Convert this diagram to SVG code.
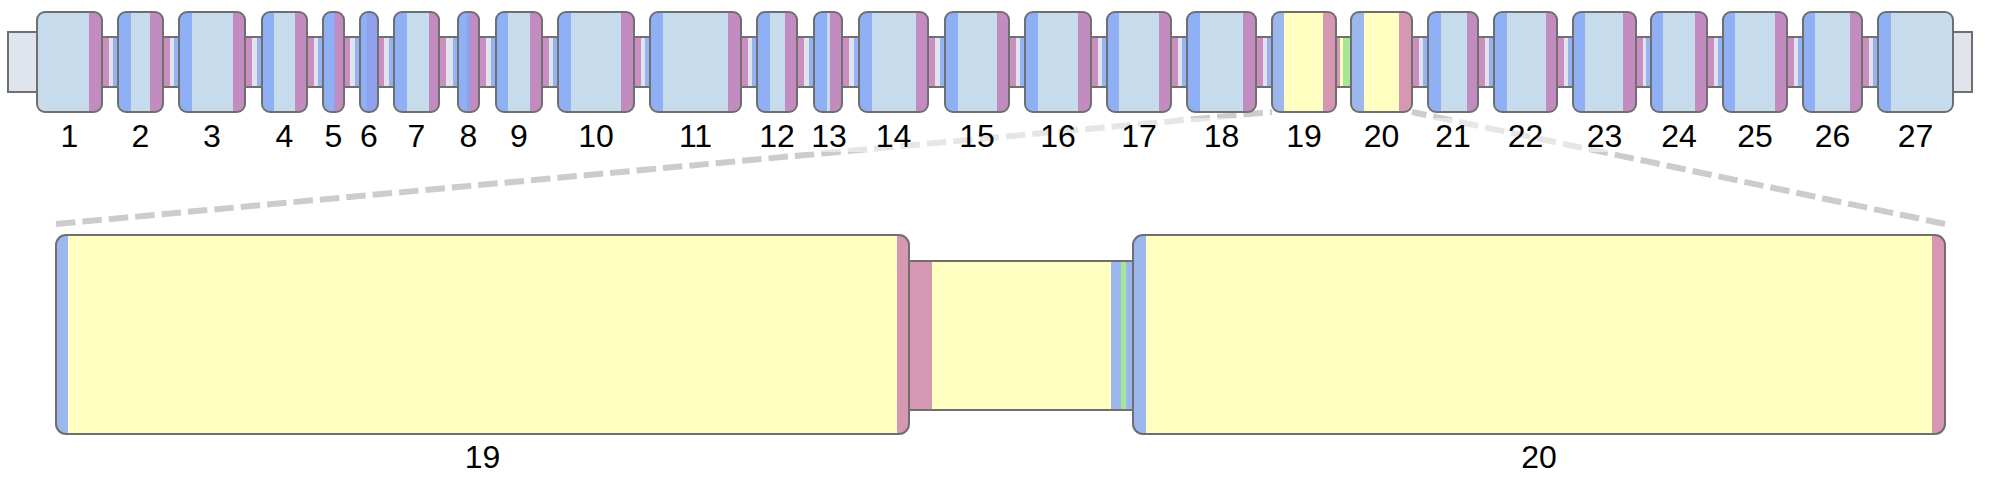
<svg xmlns="http://www.w3.org/2000/svg" width="1999" height="483" viewBox="0 0 1999 483">
<style>
.bg{fill:#ffffff}
.bb{fill:#e0e4ec}
.bbo{fill:none;stroke:#6f6f6f;stroke-width:2}
.ol{fill:none;stroke:#6f6f6f;stroke-width:2}
.ex{fill:#c6dcec}
.ey{fill:#ffffc2}
.b{fill:#82a5f7;fill-opacity:0.8}
.p{fill:#c064aa;fill-opacity:0.67}
.g{fill:#a6e694}
.lbl{font-family:"Liberation Sans",Arial,sans-serif;font-size:32px;fill:#000;text-anchor:middle}
.dash{fill:none;stroke:#cccccc;stroke-width:6;stroke-dasharray:19.5 7}
.band{fill:#ffffff;fill-opacity:0.5}
</style>
<defs>
<clipPath id="k1"><rect x="37" y="12" width="65" height="100" rx="8"/></clipPath>
<clipPath id="k2"><rect x="118" y="12" width="45" height="100" rx="8"/></clipPath>
<clipPath id="k3"><rect x="179" y="12" width="66" height="100" rx="8"/></clipPath>
<clipPath id="k4"><rect x="262" y="12" width="45" height="100" rx="8"/></clipPath>
<clipPath id="k5"><rect x="323" y="12" width="21" height="100" rx="8"/></clipPath>
<clipPath id="k6"><rect x="360" y="12" width="18" height="100" rx="8"/></clipPath>
<clipPath id="k7"><rect x="394" y="12" width="45" height="100" rx="8"/></clipPath>
<clipPath id="k8"><rect x="458" y="12" width="21" height="100" rx="8"/></clipPath>
<clipPath id="k9"><rect x="496" y="12" width="46" height="100" rx="8"/></clipPath>
<clipPath id="k10"><rect x="558" y="12" width="76" height="100" rx="8"/></clipPath>
<clipPath id="k11"><rect x="650" y="12" width="91" height="100" rx="8"/></clipPath>
<clipPath id="k12"><rect x="757" y="12" width="40" height="100" rx="8"/></clipPath>
<clipPath id="k13"><rect x="814" y="12" width="28" height="100" rx="8"/></clipPath>
<clipPath id="k14"><rect x="859" y="12" width="69" height="100" rx="8"/></clipPath>
<clipPath id="k15"><rect x="945" y="12" width="64" height="100" rx="8"/></clipPath>
<clipPath id="k16"><rect x="1025" y="12" width="66" height="100" rx="8"/></clipPath>
<clipPath id="k17"><rect x="1107" y="12" width="64" height="100" rx="8"/></clipPath>
<clipPath id="k18"><rect x="1187" y="12" width="69" height="100" rx="8"/></clipPath>
<clipPath id="k19"><rect x="1272" y="12" width="64" height="100" rx="8"/></clipPath>
<clipPath id="k20"><rect x="1351" y="12" width="61" height="100" rx="8"/></clipPath>
<clipPath id="k21"><rect x="1428" y="12" width="50" height="100" rx="8"/></clipPath>
<clipPath id="k22"><rect x="1494" y="12" width="63" height="100" rx="8"/></clipPath>
<clipPath id="k23"><rect x="1573" y="12" width="63" height="100" rx="8"/></clipPath>
<clipPath id="k24"><rect x="1651" y="12" width="56" height="100" rx="8"/></clipPath>
<clipPath id="k25"><rect x="1723" y="12" width="64" height="100" rx="8"/></clipPath>
<clipPath id="k26"><rect x="1803" y="12" width="59" height="100" rx="8"/></clipPath>
<clipPath id="k27"><rect x="1878" y="12" width="75" height="100" rx="8"/></clipPath>
<clipPath id="kb19"><rect x="56" y="235" width="853" height="199" rx="10"/></clipPath>
<clipPath id="kb20"><rect x="1133" y="235" width="812" height="199" rx="10"/></clipPath>
</defs>
<rect class="bg" x="0" y="0" width="1999" height="483"/>

<g id="connectors">
<line class="dash" x1="56" y1="224" x2="1272" y2="112"/>
<line class="dash" x1="1945" y1="224" x2="1412" y2="112"/>
<rect class="band" x="0" y="118" width="1999" height="34"/>
</g>

<g id="backbone">
<rect class="bb" x="8" y="32" width="29" height="60"/>
<rect class="bbo" x="8" y="32" width="29" height="60"/>
<rect class="bb" x="1953" y="32" width="19" height="60"/>
<rect class="bbo" x="1953" y="32" width="19" height="60"/>
<rect class="bb" x="37" y="37" width="1916" height="50"/>
<g id="intron-strips">
<rect class="p" x="102" y="38" width="7" height="48"/><rect class="b" x="113" y="38" width="5" height="48"/>
<rect class="p" x="163" y="38" width="7" height="48"/><rect class="b" x="174" y="38" width="5" height="48"/>
<rect class="p" x="245" y="38" width="7" height="48"/><rect class="b" x="257" y="38" width="5" height="48"/>
<rect class="p" x="307" y="38" width="7" height="48"/><rect class="b" x="318" y="38" width="5" height="48"/>
<rect class="p" x="344" y="38" width="6" height="48"/><rect class="b" x="355" y="38" width="5" height="48"/>
<rect class="p" x="378" y="38" width="6" height="48"/><rect class="b" x="389" y="38" width="5" height="48"/>
<rect class="p" x="439" y="38" width="7" height="48"/><rect class="b" x="453" y="38" width="5" height="48"/>
<rect class="p" x="479" y="38" width="7" height="48"/><rect class="b" x="491" y="38" width="5" height="48"/>
<rect class="p" x="542" y="38" width="7" height="48"/><rect class="b" x="553" y="38" width="5" height="48"/>
<rect class="p" x="634" y="38" width="7" height="48"/><rect class="b" x="645" y="38" width="5" height="48"/>
<rect class="p" x="741" y="38" width="7" height="48"/><rect class="b" x="752" y="38" width="5" height="48"/>
<rect class="p" x="797" y="38" width="7" height="48"/><rect class="b" x="809" y="38" width="5" height="48"/>
<rect class="p" x="842" y="38" width="7" height="48"/><rect class="b" x="854" y="38" width="5" height="48"/>
<rect class="p" x="928" y="38" width="7" height="48"/><rect class="b" x="940" y="38" width="5" height="48"/>
<rect class="p" x="1009" y="38" width="7" height="48"/><rect class="b" x="1020" y="38" width="5" height="48"/>
<rect class="p" x="1091" y="38" width="7" height="48"/><rect class="b" x="1102" y="38" width="5" height="48"/>
<rect class="p" x="1171" y="38" width="7" height="48"/><rect class="b" x="1182" y="38" width="5" height="48"/>
<rect class="p" x="1256" y="38" width="7" height="48"/><rect class="b" x="1267" y="38" width="5" height="48"/>
<rect class="ey" x="1336" y="38" width="15" height="48"/><rect class="p" x="1336" y="38" width="4" height="48"/><rect class="g" x="1343" y="38" width="7" height="48"/><rect class="b" x="1350" y="38" width="1" height="48"/>
<rect class="p" x="1412" y="38" width="7" height="48"/><rect class="b" x="1423" y="38" width="5" height="48"/>
<rect class="p" x="1478" y="38" width="7" height="48"/><rect class="b" x="1489" y="38" width="5" height="48"/>
<rect class="p" x="1557" y="38" width="7" height="48"/><rect class="b" x="1568" y="38" width="5" height="48"/>
<rect class="p" x="1636" y="38" width="7" height="48"/><rect class="b" x="1646" y="38" width="5" height="48"/>
<rect class="p" x="1707" y="38" width="7" height="48"/><rect class="b" x="1718" y="38" width="5" height="48"/>
<rect class="p" x="1787" y="38" width="7" height="48"/><rect class="b" x="1798" y="38" width="5" height="48"/>
<rect class="p" x="1862" y="38" width="7" height="48"/><rect class="b" x="1873" y="38" width="5" height="48"/>
</g>
<rect class="bbo" x="37" y="37" width="1916" height="50"/>
</g>

<g id="exon-1"><g clip-path="url(#k1)"><rect class="ex" x="37" y="12" width="65" height="100"/><rect class="p" x="89" y="12" width="13" height="100"/></g><rect class="ol" x="37" y="12" width="65" height="100" rx="8"/><text class="lbl" x="69.5" y="147">1</text></g>
<g id="exon-2"><g clip-path="url(#k2)"><rect class="ex" x="118" y="12" width="45" height="100"/><rect class="p" x="150" y="12" width="13" height="100"/><rect class="b" x="118" y="12" width="13" height="100"/></g><rect class="ol" x="118" y="12" width="45" height="100" rx="8"/><text class="lbl" x="140.5" y="147">2</text></g>
<g id="exon-3"><g clip-path="url(#k3)"><rect class="ex" x="179" y="12" width="66" height="100"/><rect class="p" x="233" y="12" width="12" height="100"/><rect class="b" x="179" y="12" width="13" height="100"/></g><rect class="ol" x="179" y="12" width="66" height="100" rx="8"/><text class="lbl" x="212" y="147">3</text></g>
<g id="exon-4"><g clip-path="url(#k4)"><rect class="ex" x="262" y="12" width="45" height="100"/><rect class="p" x="295" y="12" width="12" height="100"/><rect class="b" x="262" y="12" width="12" height="100"/></g><rect class="ol" x="262" y="12" width="45" height="100" rx="8"/><text class="lbl" x="284.5" y="147">4</text></g>
<g id="exon-5"><g clip-path="url(#k5)"><rect class="ex" x="323" y="12" width="21" height="100"/><rect class="p" x="334" y="12" width="10" height="100"/><rect class="b" x="323" y="12" width="12" height="100"/></g><rect class="ol" x="323" y="12" width="21" height="100" rx="8"/><text class="lbl" x="333.5" y="147">5</text></g>
<g id="exon-6"><g clip-path="url(#k6)"><rect class="ex" x="360" y="12" width="18" height="100"/><rect class="p" x="367" y="12" width="11" height="100"/><rect class="b" x="360" y="12" width="18" height="100"/></g><rect class="ol" x="360" y="12" width="18" height="100" rx="8"/><text class="lbl" x="369" y="147">6</text></g>
<g id="exon-7"><g clip-path="url(#k7)"><rect class="ex" x="394" y="12" width="45" height="100"/><rect class="p" x="429" y="12" width="10" height="100"/><rect class="b" x="394" y="12" width="13" height="100"/></g><rect class="ol" x="394" y="12" width="45" height="100" rx="8"/><text class="lbl" x="416.5" y="147">7</text></g>
<g id="exon-8"><g clip-path="url(#k8)"><rect class="ex" x="458" y="12" width="21" height="100"/><rect class="p" x="467" y="12" width="12" height="100"/><rect class="b" x="458" y="12" width="12" height="100"/></g><rect class="ol" x="458" y="12" width="21" height="100" rx="8"/><text class="lbl" x="468.5" y="147">8</text></g>
<g id="exon-9"><g clip-path="url(#k9)"><rect class="ex" x="496" y="12" width="46" height="100"/><rect class="p" x="530" y="12" width="12" height="100"/><rect class="b" x="496" y="12" width="12" height="100"/></g><rect class="ol" x="496" y="12" width="46" height="100" rx="8"/><text class="lbl" x="519" y="147">9</text></g>
<g id="exon-10"><g clip-path="url(#k10)"><rect class="ex" x="558" y="12" width="76" height="100"/><rect class="p" x="621" y="12" width="13" height="100"/><rect class="b" x="558" y="12" width="13" height="100"/></g><rect class="ol" x="558" y="12" width="76" height="100" rx="8"/><text class="lbl" x="596" y="147">10</text></g>
<g id="exon-11"><g clip-path="url(#k11)"><rect class="ex" x="650" y="12" width="91" height="100"/><rect class="p" x="728" y="12" width="13" height="100"/><rect class="b" x="650" y="12" width="13" height="100"/></g><rect class="ol" x="650" y="12" width="91" height="100" rx="8"/><text class="lbl" x="695.5" y="147">11</text></g>
<g id="exon-12"><g clip-path="url(#k12)"><rect class="ex" x="757" y="12" width="40" height="100"/><rect class="p" x="785" y="12" width="12" height="100"/><rect class="b" x="757" y="12" width="13" height="100"/></g><rect class="ol" x="757" y="12" width="40" height="100" rx="8"/><text class="lbl" x="777" y="147">12</text></g>
<g id="exon-13"><g clip-path="url(#k13)"><rect class="ex" x="814" y="12" width="28" height="100"/><rect class="p" x="830" y="12" width="12" height="100"/><rect class="b" x="814" y="12" width="13" height="100"/></g><rect class="ol" x="814" y="12" width="28" height="100" rx="8"/><text class="lbl" x="829" y="147">13</text></g>
<g id="exon-14"><g clip-path="url(#k14)"><rect class="ex" x="859" y="12" width="69" height="100"/><rect class="p" x="916" y="12" width="12" height="100"/><rect class="b" x="859" y="12" width="13" height="100"/></g><rect class="ol" x="859" y="12" width="69" height="100" rx="8"/><text class="lbl" x="893.5" y="147">14</text></g>
<g id="exon-15"><g clip-path="url(#k15)"><rect class="ex" x="945" y="12" width="64" height="100"/><rect class="p" x="997" y="12" width="12" height="100"/><rect class="b" x="945" y="12" width="13" height="100"/></g><rect class="ol" x="945" y="12" width="64" height="100" rx="8"/><text class="lbl" x="977" y="147">15</text></g>
<g id="exon-16"><g clip-path="url(#k16)"><rect class="ex" x="1025" y="12" width="66" height="100"/><rect class="p" x="1078" y="12" width="13" height="100"/><rect class="b" x="1025" y="12" width="13" height="100"/></g><rect class="ol" x="1025" y="12" width="66" height="100" rx="8"/><text class="lbl" x="1058" y="147">16</text></g>
<g id="exon-17"><g clip-path="url(#k17)"><rect class="ex" x="1107" y="12" width="64" height="100"/><rect class="p" x="1159" y="12" width="12" height="100"/><rect class="b" x="1107" y="12" width="12" height="100"/></g><rect class="ol" x="1107" y="12" width="64" height="100" rx="8"/><text class="lbl" x="1139" y="147">17</text></g>
<g id="exon-18"><g clip-path="url(#k18)"><rect class="ex" x="1187" y="12" width="69" height="100"/><rect class="p" x="1243" y="12" width="13" height="100"/><rect class="b" x="1187" y="12" width="13" height="100"/></g><rect class="ol" x="1187" y="12" width="69" height="100" rx="8"/><text class="lbl" x="1221.5" y="147">18</text></g>
<g id="exon-19"><g clip-path="url(#k19)"><rect class="ey" x="1272" y="12" width="64" height="100"/><rect class="p" x="1323" y="12" width="13" height="100"/><rect class="b" x="1272" y="12" width="12" height="100"/></g><rect class="ol" x="1272" y="12" width="64" height="100" rx="8"/><text class="lbl" x="1304" y="147">19</text></g>
<g id="exon-20"><g clip-path="url(#k20)"><rect class="ey" x="1351" y="12" width="61" height="100"/><rect class="p" x="1399" y="12" width="13" height="100"/><rect class="b" x="1351" y="12" width="13" height="100"/></g><rect class="ol" x="1351" y="12" width="61" height="100" rx="8"/><text class="lbl" x="1381.5" y="147">20</text></g>
<g id="exon-21"><g clip-path="url(#k21)"><rect class="ex" x="1428" y="12" width="50" height="100"/><rect class="p" x="1467" y="12" width="11" height="100"/><rect class="b" x="1428" y="12" width="13" height="100"/></g><rect class="ol" x="1428" y="12" width="50" height="100" rx="8"/><text class="lbl" x="1453" y="147">21</text></g>
<g id="exon-22"><g clip-path="url(#k22)"><rect class="ex" x="1494" y="12" width="63" height="100"/><rect class="p" x="1546" y="12" width="11" height="100"/><rect class="b" x="1494" y="12" width="13" height="100"/></g><rect class="ol" x="1494" y="12" width="63" height="100" rx="8"/><text class="lbl" x="1525.5" y="147">22</text></g>
<g id="exon-23"><g clip-path="url(#k23)"><rect class="ex" x="1573" y="12" width="63" height="100"/><rect class="p" x="1623" y="12" width="13" height="100"/><rect class="b" x="1573" y="12" width="12" height="100"/></g><rect class="ol" x="1573" y="12" width="63" height="100" rx="8"/><text class="lbl" x="1604.5" y="147">23</text></g>
<g id="exon-24"><g clip-path="url(#k24)"><rect class="ex" x="1651" y="12" width="56" height="100"/><rect class="p" x="1695" y="12" width="12" height="100"/><rect class="b" x="1651" y="12" width="12" height="100"/></g><rect class="ol" x="1651" y="12" width="56" height="100" rx="8"/><text class="lbl" x="1679" y="147">24</text></g>
<g id="exon-25"><g clip-path="url(#k25)"><rect class="ex" x="1723" y="12" width="64" height="100"/><rect class="p" x="1775" y="12" width="12" height="100"/><rect class="b" x="1723" y="12" width="12" height="100"/></g><rect class="ol" x="1723" y="12" width="64" height="100" rx="8"/><text class="lbl" x="1755" y="147">25</text></g>
<g id="exon-26"><g clip-path="url(#k26)"><rect class="ex" x="1803" y="12" width="59" height="100"/><rect class="p" x="1850" y="12" width="12" height="100"/><rect class="b" x="1803" y="12" width="12" height="100"/></g><rect class="ol" x="1803" y="12" width="59" height="100" rx="8"/><text class="lbl" x="1832.5" y="147">26</text></g>
<g id="exon-27"><g clip-path="url(#k27)"><rect class="ex" x="1878" y="12" width="75" height="100"/><rect class="b" x="1878" y="12" width="13" height="100"/></g><rect class="ol" x="1878" y="12" width="75" height="100" rx="8"/><text class="lbl" x="1915.5" y="147">27</text></g>

<g id="zoom-intron">
<rect class="ey" x="909" y="261" width="224" height="149"/>
<rect class="p" x="909" y="261" width="23" height="149"/>
<rect class="b" x="1111" y="261" width="10" height="149"/>
<rect class="g" x="1121" y="261" width="5" height="149"/>
<rect class="b" x="1126" y="261" width="7" height="149"/>
<rect class="bbo" x="909" y="261" width="224" height="149"/>
</g>
<g id="zoom-exon-19"><g clip-path="url(#kb19)"><rect class="ey" x="56" y="235" width="853" height="199"/><rect class="p" x="897" y="235" width="12" height="199"/><rect class="b" x="56" y="235" width="12" height="199"/></g><rect class="ol" x="56" y="235" width="853" height="199" rx="10"/><text class="lbl" x="482.5" y="468">19</text></g>
<g id="zoom-exon-20"><g clip-path="url(#kb20)"><rect class="ey" x="1133" y="235" width="812" height="199"/><rect class="p" x="1932" y="235" width="13" height="199"/><rect class="b" x="1133" y="235" width="13" height="199"/></g><rect class="ol" x="1133" y="235" width="812" height="199" rx="10"/><text class="lbl" x="1539" y="468">20</text></g>
</svg>
